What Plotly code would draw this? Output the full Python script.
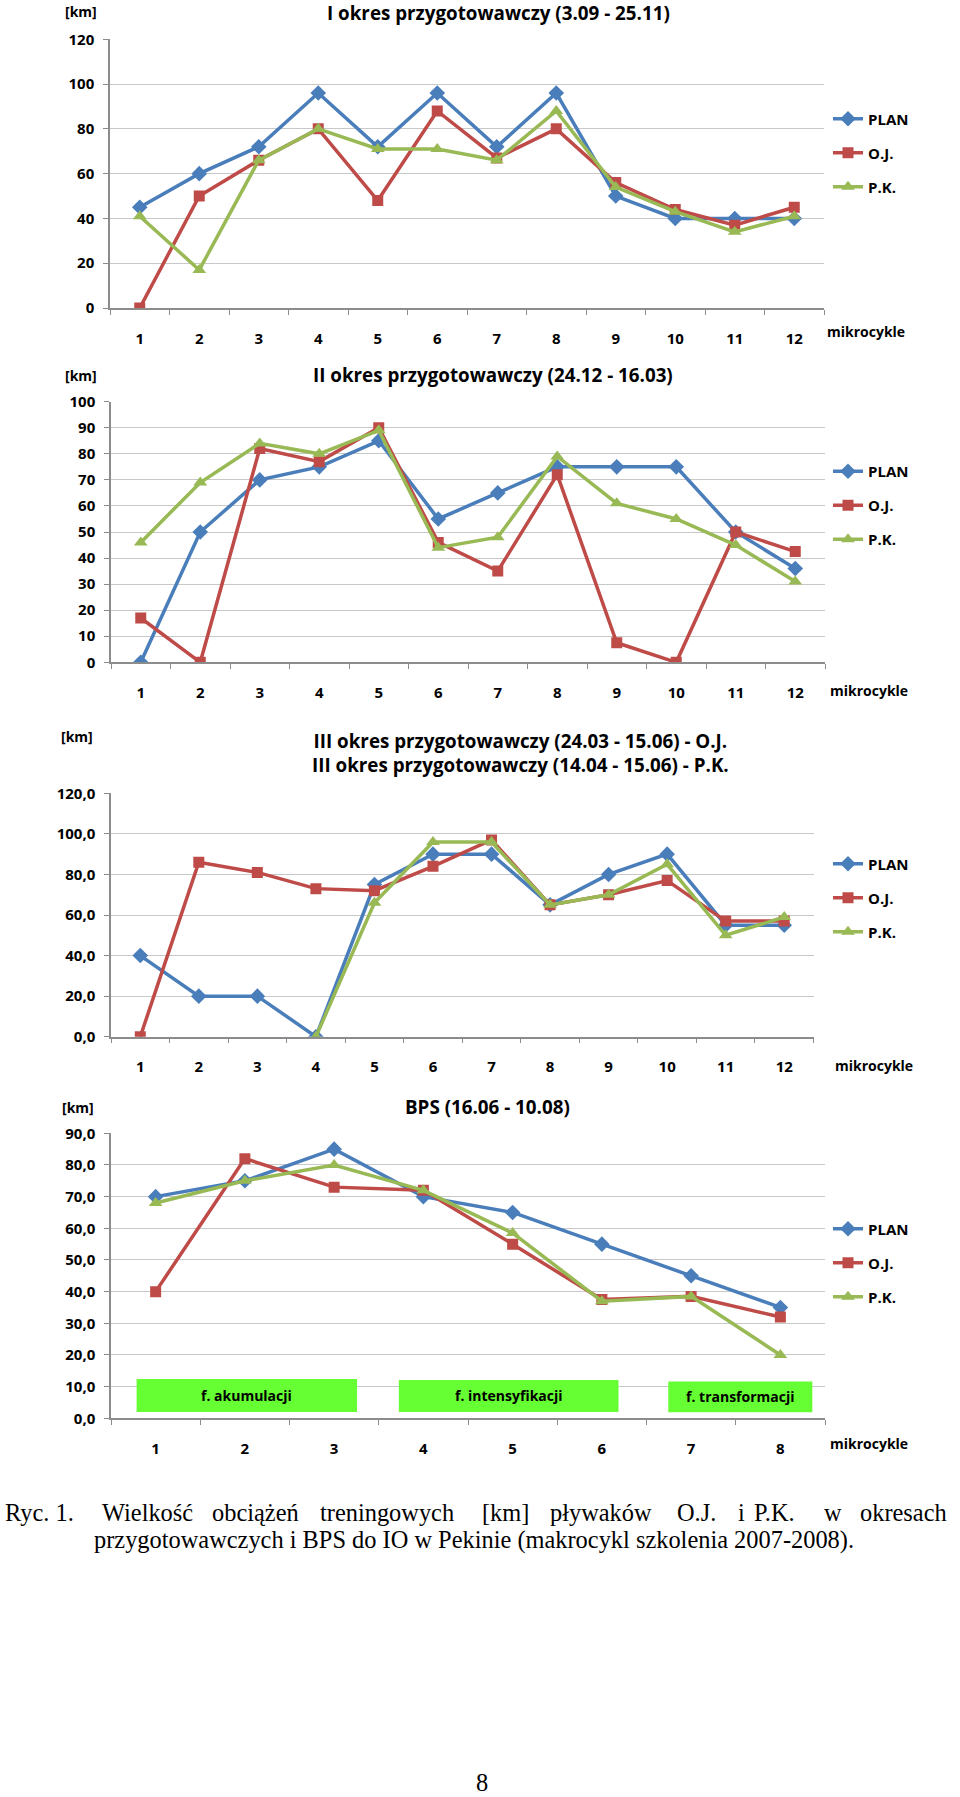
import plotly.graph_objects as go

# ---------------- DATA ----------------
series_names = ["PLAN", "O.J.", "P.K."]

# Panel I
p1_x = [1, 2, 3, 4, 5, 6, 7, 8, 9, 10, 11, 12]
p1_plan = [45, 60, 72, 96, 72, 96, 72, 96, 50, 40, 40, 40]
p1_oj = [0, 50, 66, 80, 48, 88, 67, 80, 56, 44, 37, 45]
p1_pk = [41, 17, 66, 80, 71, 71, 66, 88, 54, 43, 34, 41]

# Panel II
p2_x = [1, 2, 3, 4, 5, 6, 7, 8, 9, 10, 11, 12]
p2_plan = [0, 50, 70, 75, 85, 55, 65, 75, 75, 75, 50, 36]
p2_oj = [17, 0, 82, 77, 90, 46, 35, 72, 7.5, 0, 50, 42.5]
p2_pk = [46, 69, 84, 80, 89, 44, 48, 79, 61, 55, 45, 31]

# Panel III
p3_x = [1, 2, 3, 4, 5, 6, 7, 8, 9, 10, 11, 12]
p3_plan = [40, 20, 20, 0, 75, 90, 90, 65, 80, 90, 55, 55]
p3_oj = [0, 86, 81, 73, 72, 84, 97, 65, 70, 77, 57, 57]
p3_pk = [None, None, None, 0, 66, 96, 96, 65, 70, 85, 50, 59]

# Panel BPS
p4_x = [1, 2, 3, 4, 5, 6, 7, 8]
p4_plan = [70, 75, 85, 70, 65, 55, 45, 35]
p4_oj = [40, 82, 73, 72, 55, 37.5, 38.5, 32]
p4_pk = [68, 75, 80, 72, 58.5, 37, 38.5, 20]

phase_labels = ["f. akumulacji", "f. intensyfikacji", "f. transformacji"]

titles = [
    "I okres przygotowawczy (3.09 - 25.11)",
    "II okres przygotowawczy (24.12 - 16.03)",
    "III okres przygotowawczy (24.03 - 15.06) - O.J.<br>III okres przygotowawczy (14.04 - 15.06) - P.K.",
    "BPS (16.06 - 10.08)",
]
y_unit = "[km]"
x_unit = "mikrocykle"

caption_line1 = ["Ryc. 1.", "Wielkość", "obciążeń", "treningowych", "[km]", "pływaków",
                 "O.J.", "i", "P.K.", "w", "okresach"]
caption_line2 = "przygotowawczych i BPS do IO w Pekinie (makrocykl szkolenia 2007-2008)."
page_number = "8"

# ---------------- STYLE / LAYOUT ----------------
W, H = 960, 1797
def fx(px):
    return px / W
def fy(py):
    return 1 - py / H

colors = ["#4A7EBB", "#BE4B48", "#98B954"]
symbols = ["diamond", "square", "triangle-up"]
msizes = [12, 11, 12]
FONT = "Open Sans"

panels = [
    dict(x=p1_x, ys=[p1_plan, p1_oj, p1_pk], xl=110, xr=824, yt=39.3, yb=308,
         yr=[0, 120], dtick=20, fmt="d", title_xy=(498, 13), km_xy=(81, 11),
         mk_xy=(866, 332), leg_y=102.5),
    dict(x=p2_x, ys=[p2_plan, p2_oj, p2_pk], xl=111, xr=825, yt=401.7, yb=662.3,
         yr=[0, 100], dtick=10, fmt="d", title_xy=(493, 375), km_xy=(81, 375),
         mk_xy=(869, 690), leg_y=455),
    dict(x=p3_x, ys=[p3_plan, p3_oj, p3_pk], xl=111, xr=813.5, yt=793.3, yb=1036.7,
         yr=[0, 120], dtick=20, fmt=".1f", title_xy=(520, 753), km_xy=(77, 736),
         mk_xy=(874, 1065), leg_y=847.5),
    dict(x=p4_x, ys=[p4_plan, p4_oj, p4_pk], xl=111, xr=825, yt=1133.3, yb=1418.3,
         yr=[0, 90], dtick=10, fmt=".1f", title_xy=(487, 1107), km_xy=(78, 1107),
         mk_xy=(869, 1443), leg_y=1212.5),
]

fig = go.Figure()
annotations = []
layout_axes = {}

for i, p in enumerate(panels):
    k = "" if i == 0 else str(i + 1)
    leg = "legend" if i == 0 else f"legend{i + 1}"
    n = len(p["x"])
    for s in range(3):
        fig.add_trace(go.Scatter(
            x=p["x"], y=p["ys"][s], name=series_names[s], mode="lines+markers",
            line=dict(color=colors[s], width=3.5),
            marker=dict(symbol=symbols[s], size=msizes[s], color=colors[s]),
            xaxis="x" + k, yaxis="y" + k, legend=leg,
            legendgroup=f"g{i}_{s}", connectgaps=False,
        ))
    layout_axes["xaxis" + k] = dict(
        domain=[fx(p["xl"]), fx(p["xr"])], anchor="y" + k, automargin=False,
        range=[0.5, n + 0.5], tickmode="array", tickvals=p["x"],
        ticktext=[str(v) for v in p["x"]], ticks="", showgrid=False, zeroline=False,
        showline=True, linecolor="#8c8c8c", linewidth=1.5,
        minor=dict(tickmode="array", tickvals=[v + 0.5 for v in range(n + 1)],
                   ticks="outside", ticklen=5, tickcolor="#8c8c8c", showgrid=False),
        tickfont=dict(family=FONT, size=15, color="black", weight="bold"),
        ticklabelstandoff=16,
    )
    layout_axes["yaxis" + k] = dict(
        domain=[fy(p["yb"]), fy(p["yt"])], anchor="x" + k, automargin=False,
        range=p["yr"], dtick=p["dtick"], tick0=0, tickformat=p["fmt"],
        showgrid=True, gridcolor="#c8c8c8", gridwidth=1, zeroline=False,
        showline=True, linecolor="#8c8c8c", linewidth=1.5,
        ticks="outside", ticklen=5, tickcolor="#8c8c8c",
        tickfont=dict(family=FONT, size=15, color="black", weight="bold"),
        ticklabelstandoff=6,
    )
    layout_axes[leg] = dict(
        x=fx(828), xanchor="left", y=fy(p["leg_y"]), yanchor="top",
        font=dict(family=FONT, size=15, color="black", weight="bold"),
        bgcolor="rgba(0,0,0,0)", tracegroupgap=11.5, itemwidth=30,
    )
    annotations.append(dict(
        text=titles[i], x=fx(p["title_xy"][0]), y=fy(p["title_xy"][1]),
        xref="paper", yref="paper", showarrow=False, xanchor="center", yanchor="middle",
        font=dict(family=FONT, size=18.8, color="black", weight="bold"),
    ))
    annotations.append(dict(
        text=y_unit, x=fx(p["km_xy"][0]), y=fy(p["km_xy"][1]),
        xref="paper", yref="paper", showarrow=False, xanchor="center", yanchor="middle",
        font=dict(family=FONT, size=14, color="black", weight="bold"),
    ))
    annotations.append(dict(
        text=x_unit, x=fx(p["mk_xy"][0]), y=fy(p["mk_xy"][1]),
        xref="paper", yref="paper", showarrow=False, xanchor="center", yanchor="middle",
        font=dict(family=FONT, size=14, color="black", weight="bold"),
    ))

# phase boxes in BPS panel (data coordinates of panel 4)
phase_boxes = [(0.787, 3.257, 2.0, 12.4), (3.725, 6.186, 2.0, 12.1), (6.744, 8.358, 1.9, 11.6)]
shapes = []
for (x0, x1, y0, y1), lab in zip(phase_boxes, phase_labels):
    shapes.append(dict(type="rect", xref="x4", yref="y4", x0=x0, x1=x1, y0=y0, y1=y1,
                       fillcolor="#66FF33", line=dict(width=0), layer="above"))
    annotations.append(dict(
        text=lab, x=(x0 + x1) / 2, y=(y0 + y1) / 2, xref="x4", yref="y4",
        showarrow=False, xanchor="center", yanchor="middle",
        font=dict(family=FONT, size=14, color="black", weight="bold"),
    ))

# caption (justified first line, word by word)
cap_font = dict(family="Liberation Serif", size=24.4, color="black")
word_x = [3, 100, 210, 318, 480, 547.5, 675, 736, 752, 822, 858]
for wx, wd in zip(word_x, caption_line1):
    annotations.append(dict(text=wd, x=fx(wx), y=fy(1512), xref="paper", yref="paper",
                            showarrow=False, xanchor="left", yanchor="middle", font=cap_font))
annotations.append(dict(text=caption_line2, x=fx(92), y=fy(1540), xref="paper", yref="paper",
                        showarrow=False, xanchor="left", yanchor="middle", font=cap_font))
annotations.append(dict(text=page_number, x=fx(482), y=0, xref="paper", yref="paper",
                        showarrow=False, xanchor="center", yanchor="bottom", borderpad=0,
                        font=cap_font))

fig.update_layout(
    width=W, height=H, margin=dict(l=0, r=0, t=0, b=0, pad=0, autoexpand=False),
    paper_bgcolor="white", plot_bgcolor="white",
    separators=", ", annotations=annotations, shapes=shapes,
    **layout_axes,
)

fig.write_html("out.html")
